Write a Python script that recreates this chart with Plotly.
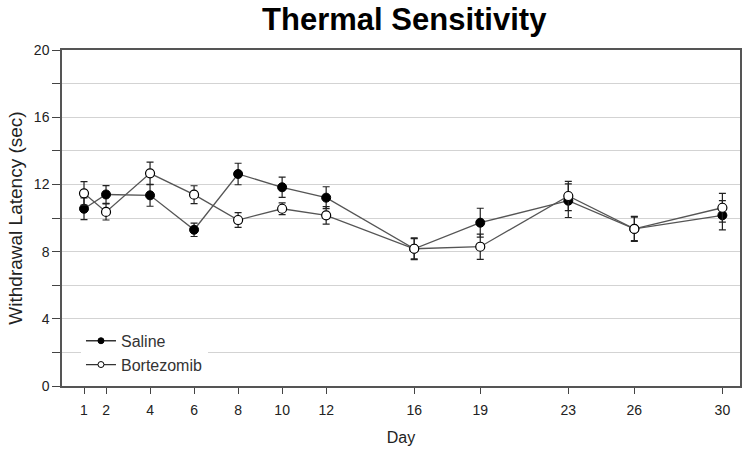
import plotly.graph_objects as go

days = [1, 2, 4, 6, 8, 10, 12, 16, 19, 23, 26, 30]
saline = [10.55, 11.4, 11.35, 9.3, 12.62, 11.83, 11.21, 8.17, 9.72, 11.03, 9.35, 10.16]
saline_err = [0.65, 0.53, 0.65, 0.4, 0.64, 0.6, 0.65, 0.65, 0.86, 1.0, 0.75, 0.87]
bortezomib = [11.47, 10.36, 12.66, 11.39, 9.88, 10.55, 10.16, 8.17, 8.29, 11.31, 9.35, 10.61]
bortezomib_err = [0.7, 0.48, 0.67, 0.53, 0.44, 0.35, 0.52, 0.6, 0.75, 0.87, 0.7, 0.86]

y_ticks = list(range(0, 21, 2))
y_labels = [str(v) if v % 4 == 0 else "" for v in y_ticks]

FONT = "Liberation Sans, Arial, sans-serif"
LINE = "#555555"

fig = go.Figure()
fig.add_trace(go.Scatter(
    x=days, y=saline, name="Saline", mode="lines+markers", showlegend=False,
    line=dict(color=LINE, width=1.3),
    marker=dict(symbol="circle", size=9, color="black", line=dict(color="black", width=1)),
    error_y=dict(type="data", array=saline_err, visible=True, color="#222222", thickness=1.2, width=3.5),
))
fig.add_trace(go.Scatter(
    x=days, y=bortezomib, name="Bortezomib", mode="lines+markers", showlegend=False,
    line=dict(color=LINE, width=1.3),
    marker=dict(symbol="circle", size=9, color="white", line=dict(color="black", width=1.2)),
    error_y=dict(type="data", array=bortezomib_err, visible=True, color="#222222", thickness=1.2, width=3.5),
))
# legend entries (smaller symbols, as in the original)
fig.add_trace(go.Scatter(
    x=[None], y=[None], name="Saline", mode="lines+markers",
    line=dict(color="#333333", width=1.3),
    marker=dict(symbol="circle", size=6, color="black", line=dict(color="black", width=1)),
))
fig.add_trace(go.Scatter(
    x=[None], y=[None], name="Bortezomib", mode="lines+markers",
    line=dict(color="#333333", width=1.3),
    marker=dict(symbol="circle", size=6, color="white", line=dict(color="black", width=1)),
))

fig.update_layout(
    width=750, height=451,
    margin=dict(l=62, r=10, t=50, b=65, autoexpand=False),
    paper_bgcolor="white", plot_bgcolor="white",
    font=dict(family=FONT, color="#222222"),
    title=dict(text="<b>Thermal Sensitivity</b>", x=0.539, xanchor="center",
               yref="container", y=0.958, yanchor="middle",
               font=dict(size=31, color="black")),
    showlegend=True,
    legend=dict(x=0.028, y=0.185, xanchor="left", yanchor="top", bgcolor="white",
                font=dict(size=16, color="#333333"), tracegroupgap=0,
                itemwidth=30),
)
fig.update_xaxes(
    range=[0, 30.8], tickvals=days, ticktext=[str(d) for d in days],
    ticks="outside", ticklen=6, tickcolor="#444", tickfont=dict(size=14),
    ticklabelstandoff=4,
    showgrid=False, zeroline=False, showline=True, linecolor=LINE, linewidth=1.5, mirror=True,
    title=dict(text="Day", font=dict(size=16), standoff=15),
    automargin=False,
)
fig.update_yaxes(
    range=[0, 20], tickvals=y_ticks, ticktext=y_labels,
    ticks="outside", ticklen=8, tickcolor="#444", tickfont=dict(size=14),
    showgrid=True, gridcolor="#d3d3d3", gridwidth=1.2, zeroline=False,
    showline=True, linecolor=LINE, linewidth=1.5, mirror=True,
    title=dict(text="Withdrawal Latency (sec)", font=dict(size=19), standoff=6),
    automargin=False,
)

fig.write_html("out.html", config={"displayModeBar": False},
               post_script="document.body.style.margin='0';")
